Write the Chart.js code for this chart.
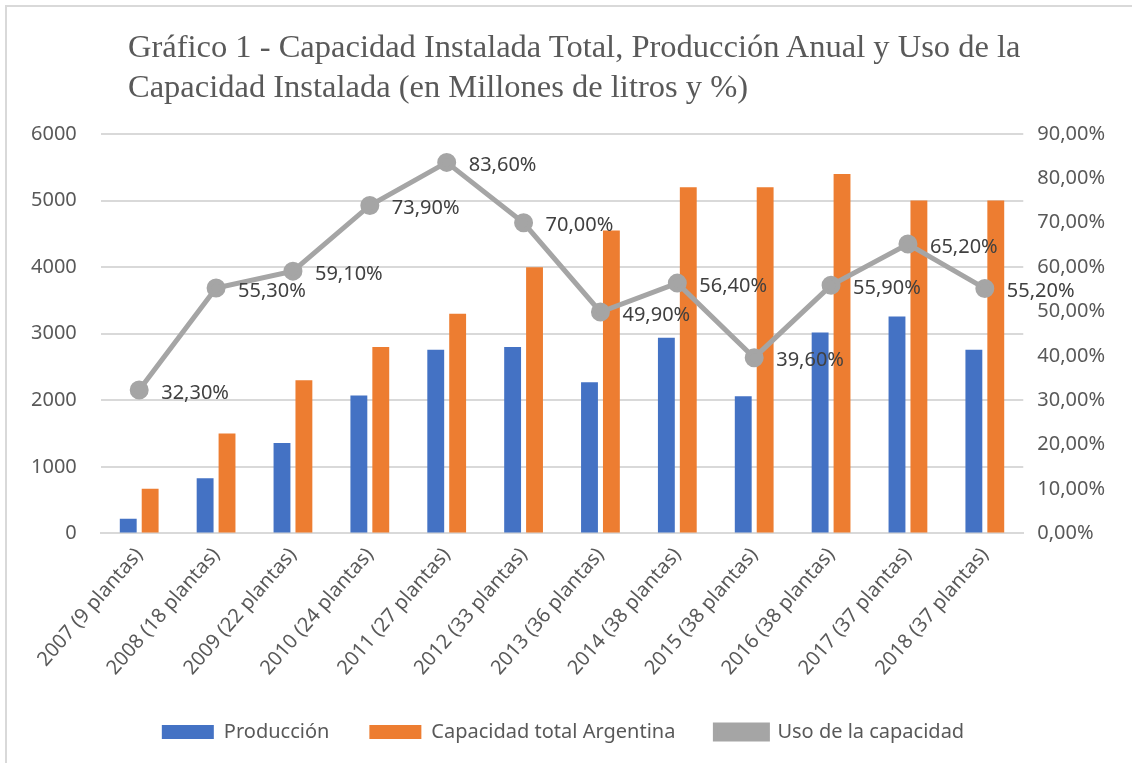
<!DOCTYPE html>
<html>
<head>
<meta charset="utf-8">
<script src="https://cdn.jsdelivr.net/npm/chart.js@4.4.1/dist/chart.umd.min.js"></script>
<style>
    html, body { margin: 0; padding: 0; background: #fff; }
    #wrap { position: relative; width: 1132px; height: 763px; overflow: hidden; }
    #frame {
        position: absolute; left: 5px; top: 5px; width: 1140px; height: 780px;
        border-left: 2px solid #d9d9d9; border-top: 2px solid #d9d9d9;
    }
    #title {
        position: absolute; left: 128px; top: 26px;
        font-family: "Liberation Serif", "Times New Roman", serif;
        font-size: 32.5px; line-height: 40px; color: #595959;
        white-space: nowrap;
    }
    canvas { position: absolute; left: 0; top: 0; }
</style>
</head>
<body>
<div id="wrap">
    <div id="frame"></div>
    <canvas id="myChart" width="1132" height="763"></canvas>
    <div id="title">Gráfico 1 - Capacidad Instalada Total, Producción Anual y Uso de la<br>Capacidad Instalada (en Millones de litros y %)</div>
</div>
<script>
/**
 * Capacidad instalada, producción y uso de la capacidad.
 */

var years      = ['2007 (9 plantas)', '2008 (18 plantas)', '2009 (22 plantas)', '2010 (24 plantas)',
                  '2011 (27 plantas)', '2012 (33 plantas)', '2013 (36 plantas)', '2014 (38 plantas)',
                  '2015 (38 plantas)', '2016 (38 plantas)', '2017 (37 plantas)', '2018 (37 plantas)'];
var produccion = [220, 830, 1360, 2070, 2760, 2800, 2270, 2940, 2060, 3020, 3260, 2760];
var capacidad  = [670, 1500, 2300, 2800, 3300, 4000, 4550, 5200, 5200, 5400, 5000, 5000];
var usoPct     = [32.3, 55.3, 59.1, 73.9, 83.6, 70.0, 49.9, 56.4, 39.6, 55.9, 65.2, 55.2];

var fontFam = '"Noto Sans", "Open Sans", sans-serif';
var grey    = '#595959';

function pct(v) {
    return v.toFixed(2).replace('.', ',') + '%';
}

// labels to the right of each point, like the Excel chart
var pointLabels = {
    id: 'pointLabels',
    afterDatasetsDraw(chart) {
        var ctx = chart.ctx;
        var meta = chart.getDatasetMeta(2);
        ctx.save();
        ctx.font = '20px ' + fontFam;
        ctx.fillStyle = '#404040';
        ctx.textBaseline = 'middle';
        ctx.textAlign = 'left';
        meta.data.forEach((pt, i) => {
            ctx.fillText(pct(usoPct[i]), pt.x + 22, pt.y + 3);
        });
        ctx.restore();
    }
};

var ctx = document.getElementById('myChart').getContext('2d');

var chart = new Chart(ctx, {
    type: 'bar',

    data: {
        labels: years,
        datasets: [{
            label: 'Producción',
            data: produccion,
            backgroundColor: '#4472C4',
            yAxisID: 'y',
            order: 2,
            categoryPercentage: 0.57,
            barPercentage: 0.77
        }, {
            label: 'Capacidad total Argentina',
            data: capacidad,
            backgroundColor: '#ED7D31',
            yAxisID: 'y',
            order: 2,
            categoryPercentage: 0.57,
            barPercentage: 0.77
        }, {
            type: 'line',
            label: 'Uso de la capacidad',
            data: usoPct,
            borderColor: '#A5A5A5',
            backgroundColor: '#A5A5A5',
            borderWidth: 5,
            pointRadius: 7,
            pointHoverRadius: 7,
            pointBackgroundColor: '#A5A5A5',
            pointBorderColor: '#A5A5A5',
            tension: 0,
            yAxisID: 'y1',
            order: 1
        }]
    },

    options: {
        responsive: false,
        animation: false,
        layout: { padding: { top: 134, left: 7, right: 13, bottom: 11 } },
        plugins: {
            title: { display: false },
            tooltip: { enabled: false },
            legend: {
                position: 'bottom',
                labels: {
                    boxWidth: 52,
                    boxHeight: 14,
                    padding: 40,
                    color: grey,
                    font: { family: fontFam, size: 20 },
                    sort: (a, b) => a.datasetIndex - b.datasetIndex
                }
            }
        },
        scales: {
            x: {
                grid: { display: false },
                border: { color: '#d9d9d9', width: 2 },
                ticks: {
                    color: grey,
                    minRotation: 49,
                    maxRotation: 49,
                    padding: 2,
                    font: { family: fontFam, size: 20 }
                }
            },
            y: {
                position: 'left',
                min: 0,
                max: 6000,
                ticks: {
                    stepSize: 1000,
                    color: grey,
                    padding: 24,
                    font: { family: fontFam, size: 20 },
                    callback: (v) => String(v)
                },
                grid: { color: '#d9d9d9', lineWidth: 2, drawTicks: false },
                border: { display: false }
            },
            y1: {
                position: 'right',
                min: 0,
                max: 90,
                ticks: {
                    stepSize: 10,
                    color: grey,
                    padding: 14,
                    font: { family: fontFam, size: 20 },
                    callback: (v) => pct(v)
                },
                grid: { display: false, drawTicks: false },
                border: { display: false }
            }
        }
    },

    plugins: [pointLabels]
});
</script>
</body>
</html>
